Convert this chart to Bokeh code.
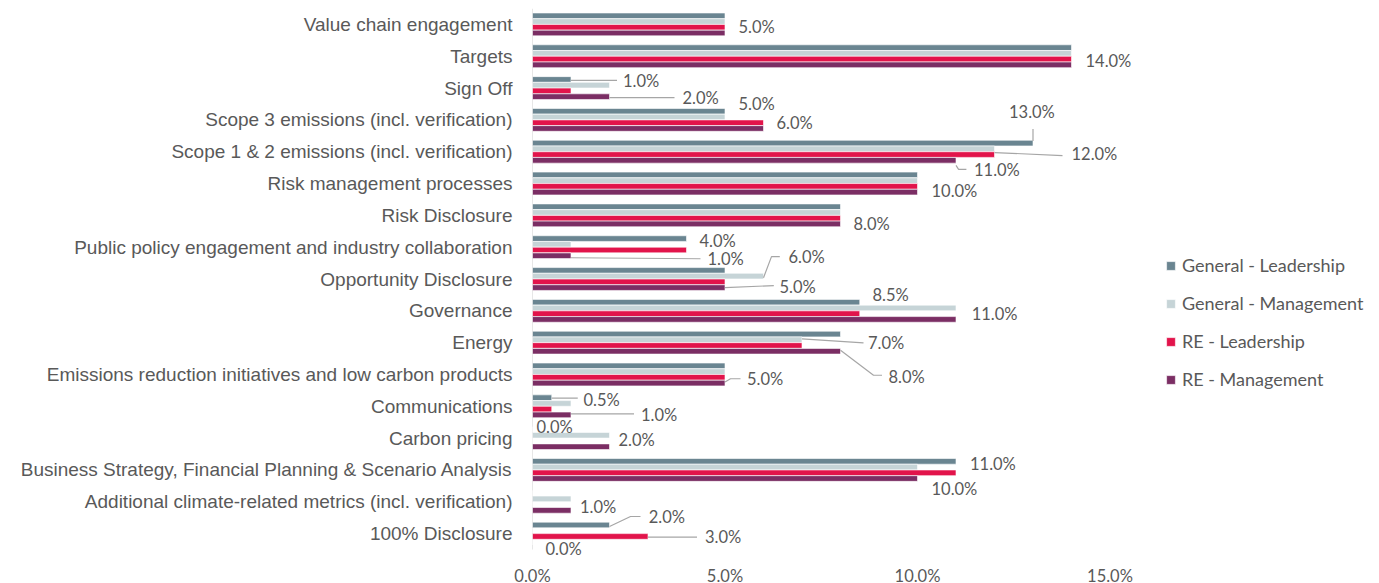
from bokeh.plotting import figure
from bokeh.models import Range1d, FixedTicker, ColumnDataSource, Legend, LegendItem, LabelSet
from bokeh.core.properties import value
from bokeh.embed import file_html
from bokeh.resources import INLINE

# ---------------- data (top to bottom as displayed) ----------------
categories = [
    "Value chain engagement",
    "Targets",
    "Sign Off",
    "Scope 3 emissions (incl. verification)",
    "Scope 1 & 2 emissions (incl. verification)",
    "Risk management processes",
    "Risk Disclosure",
    "Public policy engagement and industry collaboration",
    "Opportunity Disclosure",
    "Governance",
    "Energy",
    "Emissions reduction initiatives and low carbon products",
    "Communications",
    "Carbon pricing",
    "Business Strategy, Financial Planning & Scenario Analysis",
    "Additional climate-related metrics (incl. verification)",
    "100% Disclosure",
]
series_names = ["General - Leadership", "General - Management", "RE - Leadership", "RE - Management"]
general_leadership = [5, 14, 1, 5, 13, 10, 8, 4, 5, 8.5, 8, 5, 0.5, 0, 11, 0, 2]
general_management = [5, 14, 2, 5, 12, 10, 8, 1, 6, 11, 7, 5, 1, 2, 10, 1, 0]
re_leadership      = [5, 14, 1, 6, 12, 10, 8, 4, 5, 8.5, 7, 5, 0.5, 0, 11, 0, 3]
re_management      = [5, 14, 2, 6, 11, 10, 8, 1, 5, 11, 8, 5, 1, 2, 10, 1, 0]
x_ticks = [0, 5, 10, 15]
x_tick_labels = ["0.0%", "5.0%", "10.0%", "15.0%"]

series_values = [general_leadership, general_management, re_leadership, re_management]
colors = ["#6a8591", "#c6d4d7", "#e2144b", "#7b2e64"]

# label placement: (category index, anchor series, dx px, dy px, leader points in px rel. to bar end)
label_specs = [
    (0, 2, 13.5, 0, None),
    (1, 2, 14, 2, None),
    (2, 0, 52, 1.5, [(0, 1), (46, 1)]),
    (2, 3, 73, 1, [(0, 1), (65, 1)]),
    (3, 0, 13.5, -7.5, None),
    (3, 2, 13, 0, None),
    (4, 0, -24, -31, [(0, -2), (0, -14)]),
    (4, 2, 77, -1, [(0, -2), (68, 1)]),
    (4, 3, 18, 10, [(0, 5), (2.6, 9), (10.4, 9)]),
    (5, 3, 14, -1.5, None),
    (6, 3, 13, 0, None),
    (7, 0, 13, 2.7, None),
    (7, 3, 136.5, 3.5, [(0, 2), (129.5, 3)]),
    (8, 1, 25, -19, [(0, 1.7), (8, -19.5), (16.3, -19.5)]),
    (8, 3, 54.5, -1, [(0, 0), (48.8, -2)]),
    (9, 0, 12.7, -7, None),
    (9, 1, 15.7, 6.5, None),
    (10, 1, 66, 3.2, [(0, -1), (61.5, 3)]),
    (10, 3, 48, 26, [(0, -1), (33, 24), (41.5, 24)]),
    (11, 3, 22, -4.3, [(0, -1), (5.5, -4.3), (15.5, -4.3)]),
    (12, 0, 31.7, 2, [(0, 0.5), (26, 0.5)]),
    (12, 3, 70, 0.5, [(0, -1), (63, -1)]),
    (13, 0, 4, -2.4, None),
    (13, 1, 9, 5, None),
    (14, 0, 14, 2.4, None),
    (14, 3, 14, 10, None),
    (15, 3, 9, -3, None),
    (16, 0, 39.3, -7.5, [(0, 1.5), (21, -8.5), (31, -8.5)]),
    (16, 2, 57, 1, [(0, 0.7), (49, 0.7)]),
    (16, 1, 13, 18, None),
]

# ---------------- layout ----------------
FRAME_W = 839
PX_PER_X = 38.5
n = len(categories)
PX_PER_Y = 541 / n
EXTRA = 8  # extra px below the last category so the bottom label is not clipped
FRAME_H = 541 + EXTRA
x_end = FRAME_W / PX_PER_X
offsets = [0.27, 0.09, -0.09, -0.27]
bar_h = 0.178

p = figure(frame_width=FRAME_W, frame_height=FRAME_H,
           x_range=Range1d(0, x_end), y_range=Range1d(-0.5 - EXTRA / PX_PER_Y, n - 0.5),
           output_backend="svg", toolbar_location=None,
           min_border_left=532, min_border_right=8, min_border_top=8, min_border_bottom=26)
p.outline_line_color = None
p.xgrid.visible = False
p.ygrid.visible = False
p.background_fill_color = "white"
p.border_fill_color = "white"

# vertical axis line only across the categories
p.segment(x0=[0], y0=[-0.5], x1=[0], y1=[n - 0.5], line_color="#d0d0d0", line_width=1)

ypos = [n - 1 - i for i in range(n)]
renderers = []
for s, (vals, col) in enumerate(zip(series_values, colors)):
    src = ColumnDataSource(dict(y=[y + offsets[s] for y in ypos], right=vals))
    r = p.hbar(y="y", left=0, right="right", height=bar_h, source=src,
               fill_color=col, line_color="white", line_width=0.6)
    renderers.append(r)

# data labels + leader lines
lx, ly, lt = [], [], []
lxs, lys = [], []
for ci, si, dx, dy, leader in label_specs:
    v = series_values[si][ci]
    bx = v
    by = ypos[ci] + offsets[si]
    lx.append(bx + dx / PX_PER_X)
    ly.append(by - dy / PX_PER_Y)
    lt.append(f"{v:.1f}%")
    if leader:
        lxs.append([bx + a / PX_PER_X for a, b in leader])
        lys.append([by - b / PX_PER_Y for a, b in leader])

p.multi_line(xs="xs", ys="ys", source=ColumnDataSource(dict(xs=lxs, ys=lys)),
             line_color="#a6a6a6", line_width=1.2)
labels = LabelSet(x="x", y="y", text="t", source=ColumnDataSource(dict(x=lx, y=ly, t=lt)),
                  text_font=value("Lato"), text_font_size=value("16.5px"), text_color="#595959",
                  text_align="left", text_baseline="middle")
p.add_layout(labels)

# axes
yax = p.yaxis[0]
yax.ticker = FixedTicker(ticks=ypos)
yax.major_label_overrides = {y: c for y, c in zip(ypos, categories)}
yax.major_label_text_font = "Liberation Sans"
yax.major_label_text_font_size = "19px"
yax.major_label_text_color = "#595959"
yax.major_label_standoff = 14
yax.axis_line_color = None
yax.major_tick_line_color = None
yax.minor_tick_line_color = None

xax = p.xaxis[0]
xax.ticker = FixedTicker(ticks=x_ticks)
xax.major_label_overrides = {t: l for t, l in zip(x_ticks, x_tick_labels)}
xax.major_label_text_font = "Lato"
xax.major_label_text_font_size = "16.5px"
xax.major_label_text_color = "#595959"
xax.major_label_standoff = 2
xax.axis_line_color = None
xax.major_tick_line_color = None
xax.minor_tick_line_color = None

legend = Legend(items=[LegendItem(label=nm, renderers=[r]) for nm, r in zip(series_names, renderers)],
                location=(633, 159 + EXTRA), orientation="vertical",
                glyph_width=11, glyph_height=11, label_height=20, spacing=16,
                label_standoff=6, padding=0, margin=0,
                label_text_font="Lato", label_text_font_size="18px", label_text_color="#595959",
                border_line_color=None, background_fill_alpha=0)
p.add_layout(legend)

open("out.html", "w").write(file_html(p, INLINE))
